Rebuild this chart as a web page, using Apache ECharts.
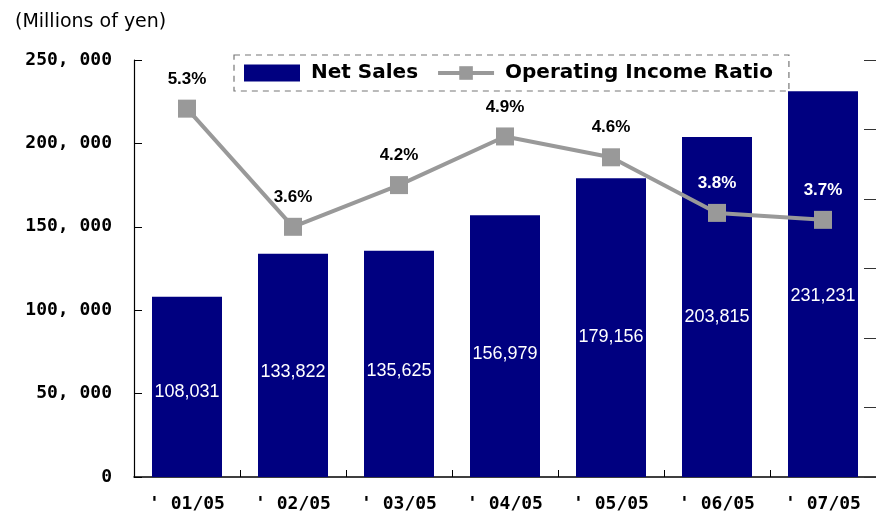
<!DOCTYPE html>
<html>
<head>
<meta charset="utf-8">
<script src="https://cdn.jsdelivr.net/npm/echarts@6/dist/echarts.min.js"></script>
<style>
html,body{margin:0;padding:0;background:#fff;}
#chart{width:876px;height:515px;}
</style>
</head>
<body>
<div id="chart"></div>
<script>
const categories = ["' 01/05", "' 02/05", "' 03/05", "' 04/05", "' 05/05", "' 06/05", "' 07/05"];
const netSales = [108031, 133822, 135625, 156979, 179156, 203815, 231231];
const opIncomeRatio = [5.3, 3.6, 4.2, 4.9, 4.6, 3.8, 3.7];
const leftTicks = [0, 50000, 100000, 150000, 200000, 250000];
const whiteLabelIdx = [5, 6];

const chart = echarts.init(document.getElementById('chart'), null, {renderer: 'canvas'});

function fmtAxis(v) {
  if (v === 0) return '0';
  const s = String(v);
  return s.slice(0, s.length - 3) + ', ' + s.slice(s.length - 3);
}
function fmtBar(v) {
  return v.toLocaleString('en-US');
}

const option = {
  backgroundColor: '#ffffff',
  animation: false,
  title: {
    text: '(Millions of yen)',
    left: 10, top: 8,
    textStyle: {fontFamily: 'DejaVu Sans', fontWeight: 'normal', fontSize: 19, color: '#000'}
  },
  legend: {
    left: 234, top: 55,
    padding: [8, 16, 8, 10],
    borderColor: '#777',
    borderWidth: 1.2,
    borderType: [6, 5],
    itemGap: 18,
    itemWidth: 56, itemHeight: 17,
    textStyle: {fontFamily: 'DejaVu Sans', fontWeight: 'bold', fontSize: 20, color: '#000', padding: [0, 0, 0, 6]},
    data: [
      {name: 'Net Sales', icon: 'rect'},
      {name: 'Operating Income Ratio', lineStyle: {width: 4, color: '#999999'}}
    ]
  },
  grid: {left: 134, right: -2, top: 60, bottom: 38, containLabel: false},
  xAxis: {
    type: 'category',
    data: categories,
    axisLine: {show: true, lineStyle: {color: '#000', width: 1.5}},
    axisTick: {show: true, inside: true, length: 7, lineStyle: {color: '#000'}},
    axisLabel: {
      margin: 18, color: '#000', fontSize: 18, fontWeight: 'bold',
      fontFamily: 'DejaVu Sans Mono'
    },
    splitLine: {show: false}
  },
  yAxis: [
    {
      type: 'value', min: 0, max: 250000, interval: 50000,
      axisLine: {show: true, lineStyle: {color: '#000', width: 1.2}},
      axisTick: {show: true, inside: true, length: 8, lineStyle: {color: '#000'}},
      axisLabel: {
        margin: 22, color: '#000', fontSize: 18, fontWeight: 'bold',
        fontFamily: 'DejaVu Sans Mono',
        formatter: fmtAxis
      },
      splitLine: {show: false}
    },
    {
      type: 'value', min: 0, max: 6, interval: 1,
      position: 'right',
      axisLine: {show: true, lineStyle: {color: '#333'}},
      axisTick: {show: true, inside: true, length: 12, lineStyle: {color: '#333'}},
      axisLabel: {show: false},
      splitLine: {show: false}
    }
  ],
  series: [
    {
      name: 'Net Sales',
      type: 'bar',
      data: netSales,
      barWidth: 70,
      itemStyle: {color: '#000080'},
      label: {
        show: true,
        position: ['50%', '53%'],
        align: 'center', verticalAlign: 'middle',
        color: '#fff', fontSize: 18, fontFamily: 'Liberation Sans',
        formatter: p => fmtBar(p.value)
      },
      z: 2
    },
    {
      name: 'Operating Income Ratio',
      type: 'line',
      yAxisIndex: 1,
      data: opIncomeRatio.map((v, i) => ({
        value: v,
        label: {color: whiteLabelIdx.includes(i) ? '#fff' : '#000'}
      })),
      symbol: 'rect',
      symbolSize: 18,
      lineStyle: {color: '#999999', width: 4},
      itemStyle: {color: '#999999'},
      label: {
        show: true, position: 'top', distance: 12,
        fontFamily: 'Liberation Sans', fontWeight: 'bold', fontSize: 17,
        formatter: p => p.value.toFixed(1) + '%'
      },
      z: 5
    }
  ]
};
chart.setOption(option);
</script>
</body>
</html>
